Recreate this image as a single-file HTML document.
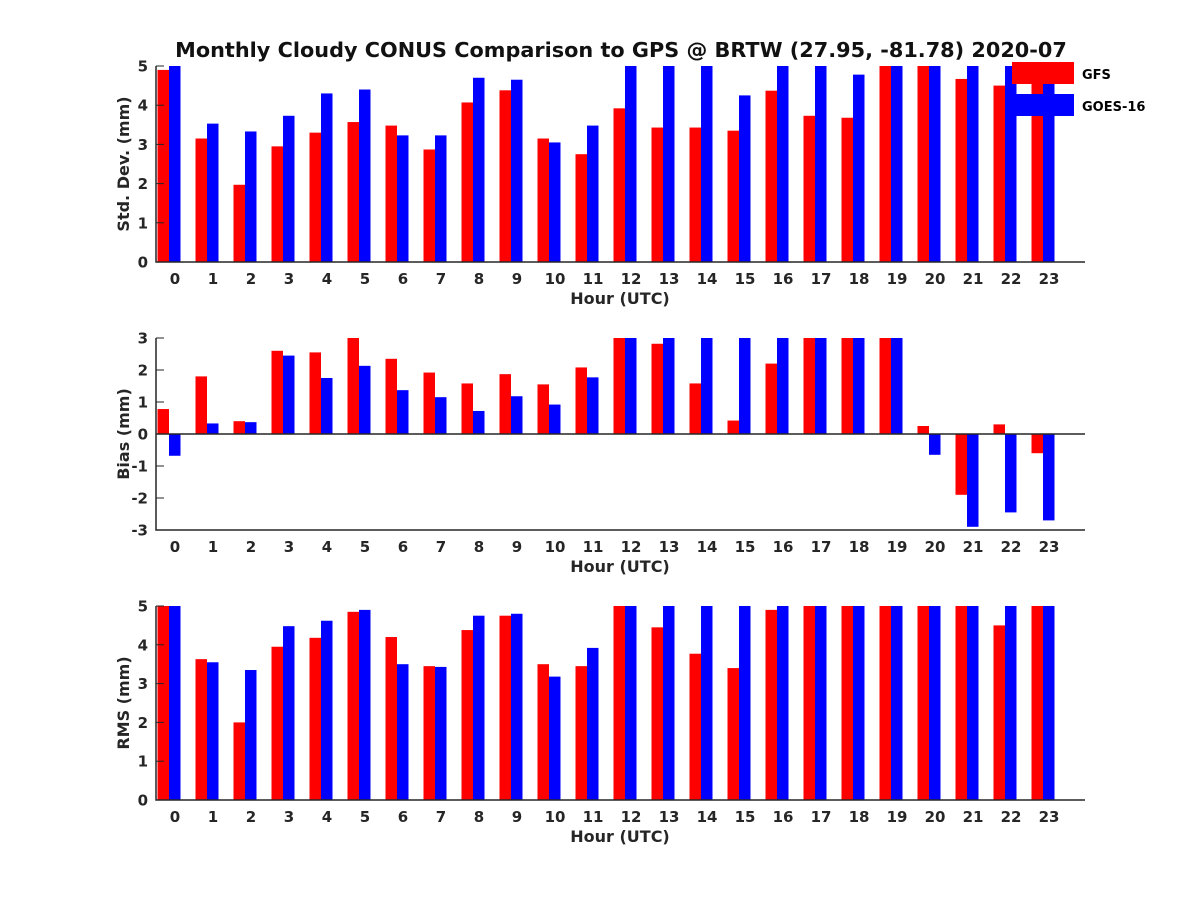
<!DOCTYPE html>
<html><head><meta charset="utf-8"><style>
body{margin:0;background:#fff}
svg{display:block;font-family:"DejaVu Sans","Liberation Sans",sans-serif;font-weight:bold}
</style></head><body>
<svg id="chart" width="1200" height="900" viewBox="0 0 1200 900">
<rect width="1200" height="900" fill="#fff"/>
<text x="621" y="57" text-anchor="middle" font-size="20.8" fill="#111">Monthly Cloudy CONUS Comparison to GPS @ BRTW (27.95, -81.78) 2020-07</text>
</svg>
<script>
const hours = [0,1,2,3,4,5,6,7,8,9,10,11,12,13,14,15,16,17,18,19,20,21,22,23];
const stdGFS = [4.9,3.15,1.97,2.95,3.3,3.57,3.48,2.87,4.07,4.38,3.15,2.75,3.92,3.43,3.43,3.35,4.37,3.73,3.68,5,5,4.67,4.5,5];
const stdGOES = [5,3.53,3.33,3.73,4.3,4.4,3.23,3.23,4.7,4.65,3.05,3.48,5,5,5,4.25,5,5,4.78,5,5,5,5,5];
const biasGFS = [0.78,1.8,0.4,2.6,2.55,3,2.35,1.92,1.58,1.87,1.55,2.08,3,2.82,1.58,0.42,2.2,3,3,3,0.25,-1.9,0.3,-0.6];
const biasGOES = [-0.68,0.33,0.37,2.45,1.75,2.13,1.37,1.15,0.72,1.18,0.92,1.77,3,3,3,3,3,3,3,3,-0.65,-2.9,-2.45,-2.7];
const rmsGFS = [5,3.63,2.0,3.95,4.18,4.85,4.2,3.45,4.38,4.75,3.5,3.45,5,4.45,3.77,3.4,4.9,5,5,5,5,5,4.5,5];
const rmsGOES = [5,3.55,3.35,4.48,4.62,4.9,3.5,3.43,4.75,4.8,3.18,3.92,5,5,5,5,5,5,5,5,5,5,5,5];
const stdTicks = [0,1,2,3,4,5];
const biasTicks = [-3,-2,-1,0,1,2,3];
const rmsTicks = [0,1,2,3,4,5];

const NS='http://www.w3.org/2000/svg';
const svg=document.getElementById('chart');
function mk(tag,attrs,parent){const e=document.createElementNS(NS,tag);for(const k in attrs)e.setAttribute(k,attrs[k]);(parent||svg).appendChild(e);return e;}
const xL=156,xR=1085;
function xs(h){return 175+38*h;}

function panel(name,top,bottom,ymin,ymax,ticks,gfs,goes,ylabel){
  const g=mk('g',{});
  
  
  const ys=v=>bottom-(v-ymin)/(ymax-ymin)*(bottom-top);
  const clip=v=>Math.max(ymin,Math.min(ymax,v));
  const y0=ys(Math.max(ymin,0));
  hours.forEach((h,i)=>{
    const c=xs(h);
    const a=ys(clip(gfs[i])), b=ys(clip(goes[i]));
    const r=mk('rect',{x:c-17.5,y:Math.min(a,y0),width:11.5,height:Math.abs(a-y0),fill:'#ff0000'},g);
    
    
    const bl=mk('rect',{x:c-6,y:Math.min(b,y0),width:11.5,height:Math.abs(b-y0),fill:'#0000ff'},g);
    
    
    const t=mk('text',{x:c,y:bottom+22,'text-anchor':'middle','font-size':15,fill:'#262626'},g);
    t.textContent=h;
    
    
  });
  if(ymin<0){const zl=mk('line',{x1:xL,x2:xR,y1:ys(0),y2:ys(0),stroke:'#262626','stroke-width':1.5},g);
    }
  ticks.forEach(v=>{
    const y=ys(v);
    mk('line',{x1:xL,x2:xL+8,y1:y,y2:y,stroke:'#262626','stroke-width':1},g);
    const t=mk('text',{x:xL-8,y:y+5.5,'text-anchor':'end','font-size':15,fill:'#262626'},g);
    t.textContent=v;
    
    
  });
  const ax=mk('path',{d:`M${xL},${top} L${xL},${bottom} L${xR},${bottom}`,fill:'none',stroke:'#262626','stroke-width':1.5},g);
  
  
  const xl=mk('text',{x:620,y:bottom+42,'text-anchor':'middle','font-size':16,fill:'#262626'},g);
  xl.textContent='Hour (UTC)';
  
  
  const cy=(top+bottom)/2;
  const yl=mk('text',{x:0,y:0,'text-anchor':'middle','font-size':16,fill:'#262626',transform:`translate(129,${cy}) rotate(-90)`},g);
  yl.textContent=ylabel;
  
  
}
panel('std',66,262,0,5,stdTicks,stdGFS,stdGOES,'Std. Dev. (mm)');
panel('bias',338,530,-3,3,biasTicks,biasGFS,biasGOES,'Bias (mm)');
panel('rms',606,800,0,5,rmsTicks,rmsGFS,rmsGOES,'RMS (mm)');

const lg=mk('g',{});


const s1=mk('rect',{x:1012,y:62,width:62,height:22,fill:'#ff0000'},lg);

const t1=mk('text',{x:1082,y:79,'font-size':13,fill:'#000'},lg);t1.textContent='GFS';

const s2=mk('rect',{x:1012,y:94,width:62,height:22,fill:'#0000ff'},lg);

const t2=mk('text',{x:1082,y:111,'font-size':13,fill:'#000'},lg);t2.textContent='GOES-16';

</script>
</body></html>
